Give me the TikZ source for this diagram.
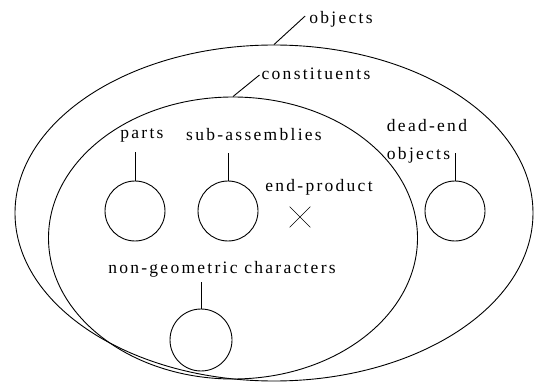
\documentclass[tikz,border=0pt]{standalone}
\usepackage{fontspec}
\setmainfont{Liberation Serif}[LetterSpace=13]
\usetikzlibrary{positioning, shapes.geometric, shapes.misc}

\begin{document}
\begin{tikzpicture}[
      x=1pt, y=-1pt,
      every node/.style={inner sep=0pt},
      lbl/.style={font=\fontsize{17.5}{28}\selectfont},
      set/.style={draw, ellipse, line width=0.9pt},
      ring/.style={draw, circle, minimum size=60pt, line width=0.9pt},
      lead/.style={line width=0.9pt},
    ]
      \useasboundingbox (0,0) rectangle (539,385);
      % Nested sets
      \node[set, minimum width=518pt, minimum height=336pt] (outer) at (274,213) {};
      \node[set, minimum width=369pt, minimum height=282pt] (inner) at (233,238) {};
      % Members
      \node[ring] (partsc) at (135,211) {};
      \node[ring] (subc) at (228,211) {};
      \node[ring] (deadc) at (455,211) {};
      \node[ring, minimum size=62pt] (ngc) at (201,340) {};
      \node[draw, cross out, minimum size=20pt, line width=0.7pt] (endx) at (300,217) {};
      % Labels
      \node[lbl] (objlbl) at (341,19) {objects};
      \node[lbl] (conlbl) at (316,74) {constituents};
      \node[lbl] (partslbl) at (142,135) {parts};
      \node[lbl] (sublbl) at (254,135) {sub-assemblies};
      \node[lbl, align=left] (deadlbl) at (427,141) {dead-end\\objects};
      \node[lbl] (endlbl) at (319,187) {end-product};
      \node[lbl] (nglbl) at (222,269) {non-geometric characters};
      % Leaders
      \draw[lead] (outer.north) -- ([xshift=-4pt,yshift=3pt]objlbl.west);
      \draw[lead] (inner.north) -- ([xshift=-2pt,yshift=-1pt]conlbl.west);
      \draw[lead] (partsc.north) -- ++(0,-29);
      \draw[lead] (subc.north) -- ++(0,-28);
      \draw[lead] (deadc.north) -- ++(0,-28);
      \draw[lead] (ngc.north) -- ++(0,-27);
    \end{tikzpicture}
\end{document}
